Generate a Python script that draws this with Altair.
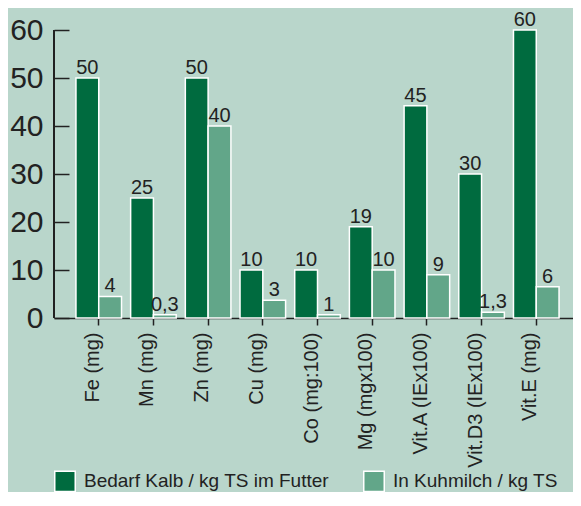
import altair as alt
import pandas as pd

categories = ["Fe (mg)", "Mn (mg)", "Zn (mg)", "Cu (mg)", "Co (mg:100)",
              "Mg (mgx100)", "Vit.A (IEx100)", "Vit.D3 (IEx100)", "Vit.E (mg)"]
series = ["Bedarf Kalb / kg TS im Futter", "In Kuhmilch / kg TS"]
bedarf_values = [50, 25, 50, 10, 10, 19, 44.2, 30, 60]
milch_values = [4.5, 0.7, 40, 3.7, 0.7, 10, 9, 1.2, 6.5]
bedarf_labels = ["50", "25", "50", "10", "10", "19", "45", "30", "60"]
milch_labels = ["4", "0,3", "40", "3", "1", "10", "9", "1,3", "6"]
y_ticks = [0, 10, 20, 30, 40, 50, 60]
colors = ["#006b3f", "#62a689"]

rows = []
for i, c in enumerate(categories):
    rows.append({"cat": c, "series": series[0], "value": bedarf_values[i], "label": bedarf_labels[i]})
    rows.append({"cat": c, "series": series[1], "value": milch_values[i], "label": milch_labels[i]})
df = pd.DataFrame(rows)

W, H = 527, 288
FONT = "Liberation Sans"
INK = "#222222"

x = alt.X("cat:N", sort=categories, title=None,
          scale=alt.Scale(paddingInner=0, paddingOuter=0.318),
          axis=alt.Axis(labelAngle=270, labelAlign="right", labelBaseline="alphabetic",
                        labelFontSize=20, labelColor=INK, labelFont=FONT,
                        tickSize=7, tickColor=INK, tickWidth=1.5,
                        domainColor=INK, domainWidth=1.5, labelPadding=7))
xo = alt.XOffset("series:N", sort=series,
                 scale=alt.Scale(paddingInner=0, paddingOuter=0.2))
y = alt.Y("value:Q", title=None,
          scale=alt.Scale(domain=[0, 60], nice=False, zero=True),
          axis=alt.Axis(values=y_ticks, domain=False, offset=-15, tickSize=15,
                        tickColor=INK, tickWidth=1.5, labelFontSize=30,
                        labelColor=INK, labelFont=FONT, labelPadding=11, grid=False))

color = alt.Color("series:N", sort=series,
                  scale=alt.Scale(domain=series, range=colors),
                  legend=alt.Legend(orient="none", legendX=0, legendY=440,
                                    direction="horizontal", title=None,
                                    symbolType="square", symbolSize=420,
                                    symbolStrokeColor="white", symbolStrokeWidth=1.5,
                                    symbolOpacity=1,
                                    labelFontSize=19, labelFont=FONT, labelColor=INK,
                                    labelOffset=8, columnPadding=31, labelLimit=400))

bars = alt.Chart(df).mark_bar(stroke="white", strokeWidth=1.5).encode(
    x=x, xOffset=xo, y=y, color=color)

texts = alt.Chart(df).mark_text(dy=-4, baseline="alphabetic", fontSize=20,
                                color=INK, font=FONT).encode(
    x=alt.X("cat:N", sort=categories), xOffset=xo, y=alt.Y("value:Q"), text="label:N")

vline = alt.Chart(df).mark_rule(color=INK, strokeWidth=1.5).encode(
    x=alt.value(0), y=alt.value(0), y2=alt.value(H))

chart = alt.layer(bars, texts, vline).properties(
    width=W, height=H,
    autosize=alt.AutoSizeParams(type="none"),
    padding={"left": 46, "top": 22, "right": -8, "bottom": 174},
).configure(background="#b9d6cb").configure_view(stroke=None)

chart.save("out.html", embed_options={"renderer": "svg", "actions": False})
